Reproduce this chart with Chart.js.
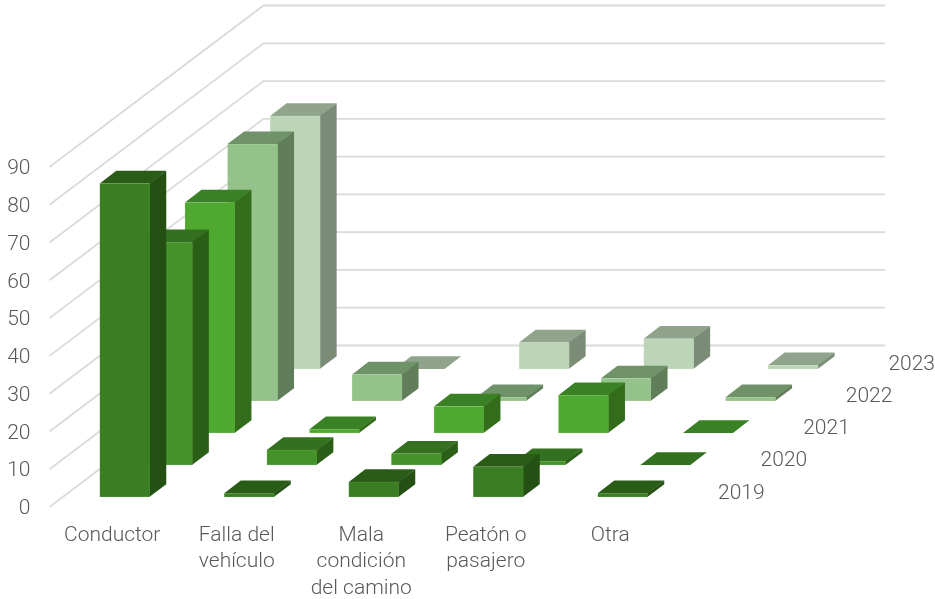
<!DOCTYPE html>
<html>
<head>
<meta charset="utf-8">
<style>html,body{margin:0;padding:0;background:#fff}canvas{display:block}</style>
<script src="https://cdn.jsdelivr.net/npm/chart.js@4"></script>
</head>
<body>
<canvas id="c" width="935" height="599"></canvas>
<script>
const categories = ['Conductor', ['Falla del','vehículo'], ['Mala','condición','del camino'], ['Peatón o','pasajero'], 'Otra'];
const years = ['2019','2020','2021','2022','2023'];
const v2019 = [83, 1, 4, 8, 1];
const v2020 = [59, 4, 3, 1, 0];
const v2021 = [61, 1, 7, 10, 0];
const v2022 = [68, 7, 1, 6, 1];
const v2023 = [67, 0, 7, 8, 1];
const yTicks = {min:0, max:90, step:10};
const faceColors = ['#3a7d22','#45922a','#4fa82f','#93c28a','#bbd5b6'];
const topColors  = ['#2a5c17','#33701f','#3a8024','#6f9268','#8fa48b'];
const sideColors = ['#245014','#2b5f18','#336c1b','#607e59','#7a8b76'];
const edgeColors = ['#5c9a48','#66aa50','#70bc55','#a9cfa2','#cbe0c7'];

const BAR_W = 50, BOX_DX = 16.5, BOX_DY = 12.7;
const STEP_DX = 42.6, STEP_DY = 32, START_DX = 12.5, START_DY = 10;
const WALL_DX = 214, WALL_DY = 161.5, WALL_RIGHT = 885;

const box3d = {
  id:'box3d',
  beforeDatasetsDraw(chart){
    const ctx = chart.ctx, y = chart.scales.y, left = chart.chartArea.left - 0.5;
    ctx.save();
    ctx.strokeStyle = '#dadada';
    ctx.lineWidth = 1.8;
    y.ticks.forEach(t=>{
      const p = y.getPixelForValue(t.value);
      ctx.beginPath();
      ctx.moveTo(left,p);
      ctx.lineTo(left+WALL_DX,p-WALL_DY);
      ctx.lineTo(WALL_RIGHT,p-WALL_DY);
      ctx.stroke();
    });
    ctx.restore();
  },
  beforeDatasetDraw(chart,args){
    const ctx = chart.ctx, i = args.index;
    const ox = START_DX + STEP_DX*i, oy = START_DY + STEP_DY*i;
    ctx.save();
    args.meta.data.forEach(el=>{
      const l = el.x - BAR_W/2 + ox, r = l + BAR_W;
      const t = el.y - oy, b = el.base - oy;
      const poly = (pts,c)=>{
        ctx.fillStyle=c; ctx.beginPath();
        pts.forEach((q,n)=> n? ctx.lineTo(q[0],q[1]) : ctx.moveTo(q[0],q[1]));
        ctx.closePath(); ctx.fill();
      };
      poly([[l,t],[r,t],[r+BOX_DX,t-BOX_DY],[l+BOX_DX,t-BOX_DY]], topColors[i]);
      if (b-t > 0.5){
        poly([[r-0.5,t],[r+BOX_DX,t-BOX_DY],[r+BOX_DX,b-BOX_DY],[r-0.5,b]], sideColors[i]);
        ctx.fillStyle = edgeColors[i];
        ctx.fillRect(l,t,BAR_W,b-t);
        ctx.fillStyle = faceColors[i];
        ctx.fillRect(l+0.4,t+0.4,BAR_W-0.4,b-t-0.8);
      }
    });
    ctx.restore();
    return false;
  },
  afterDatasetsDraw(chart){
    const ctx = chart.ctx, x = chart.scales.x, y = chart.scales.y;
    ctx.save();
    ctx.font = '300 21px Roboto';
    ctx.fillStyle = '#595959';
    ctx.textAlign = 'left';
    ctx.textBaseline = 'middle';
    chart.data.datasets.forEach((d,i)=>{
      ctx.fillText(d.label, x.right + 45.5 + STEP_DX*i, y.getPixelForValue(0) - START_DY - 32.3*i - 3.5);
    });
    ctx.restore();
  }
};

const series = [v2019,v2020,v2021,v2022,v2023];
new Chart(document.getElementById('c'),{
  type:'bar',
  data:{
    labels:categories,
    datasets:series.map((d,i)=>({label:years[i],data:d,backgroundColor:faceColors[i],grouped:false,barThickness:BAR_W}))
  },
  plugins:[box3d],
  options:{
    responsive:false,
    animation:false,
    layout:{padding:{top:167,right:262.5,left:0,bottom:0}},
    plugins:{legend:{display:false},tooltip:{enabled:false},title:{display:false}},
    scales:{
      x:{
        type:'category',
        offset:true,
        grid:{display:false},
        border:{display:false},
        afterFit(s){s.height=92;},
        ticks:{autoSkip:false,maxRotation:0,minRotation:0,padding:7,color:'#595959',
          font:{family:'Roboto',size:21,weight:'300',lineHeight:1.265}}
      },
      y:{
        min:yTicks.min,max:yTicks.max,
        grid:{display:false,drawTicks:false},
        border:{display:false},
        afterFit(s){s.width=50;},
        ticks:{stepSize:yTicks.step,padding:19.5,labelOffset:2,color:'#595959',
          font:{family:'Roboto',size:21,weight:'300'}}
      }
    }
  }
});
</script>
</body>
</html>
